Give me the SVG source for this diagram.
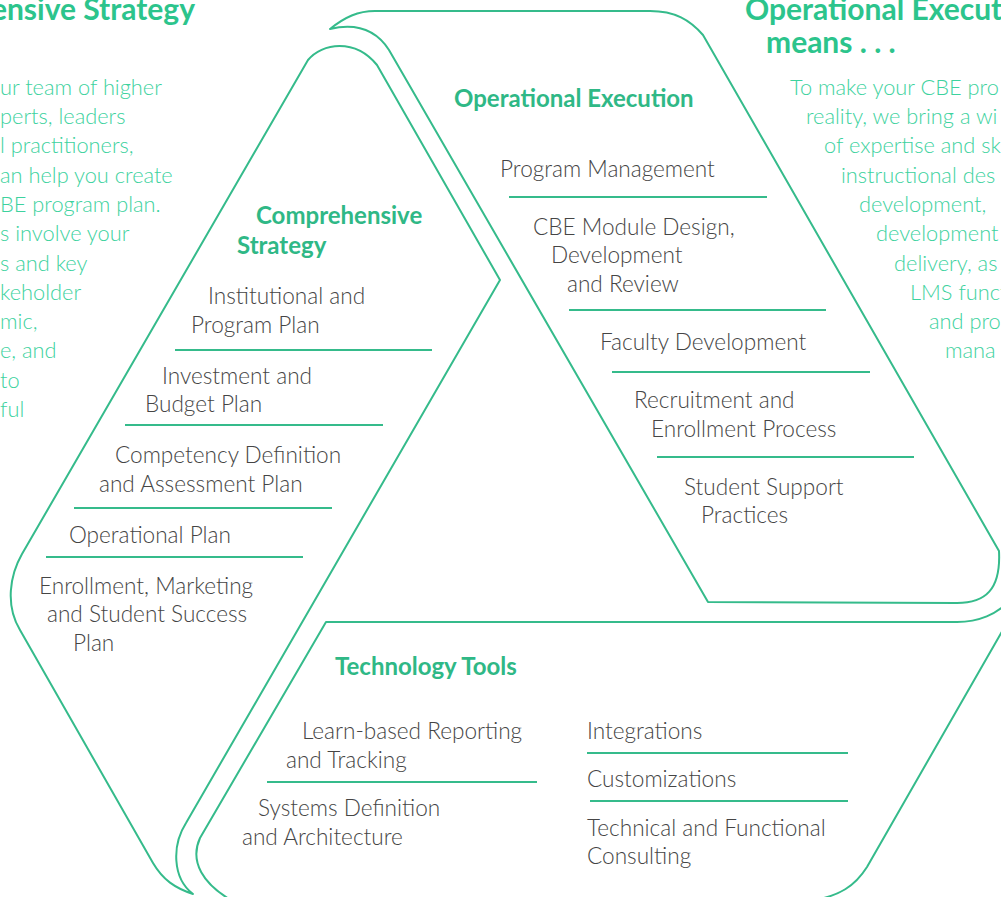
<svg xmlns="http://www.w3.org/2000/svg" width="1001" height="897" viewBox="0 0 1001 897">
<style>
.shape{fill:none;stroke:#35bb8b;stroke-width:2;stroke-linejoin:round}
.sep{stroke:#35bb8b;stroke-width:2}
.item{font-family:Lato,"Open Sans","Liberation Sans",sans-serif;font-weight:300;font-size:22.6px;fill:#454545}
.head{font-family:Lato,"Open Sans","Liberation Sans",sans-serif;font-weight:700;font-size:24px;fill:#2fb886}
.title{font-family:Lato,"Open Sans","Liberation Sans",sans-serif;font-weight:700;font-size:30px;fill:#2cc48c}
.para{font-family:Lato,"Open Sans","Liberation Sans",sans-serif;font-weight:300;font-size:21.8px;fill:#3dd29e}
</style>
<rect width="1001" height="897" fill="#ffffff"/>

<g id="side-left">
<text class="title" x="195" y="20" text-anchor="end">ensive Strategy</text>
<text class="para" x="0" y="95">ur team of higher</text>
<text class="para" x="0" y="124">perts, leaders</text>
<text class="para" x="0" y="153">l practitioners,</text>
<text class="para" x="0" y="183">an help you create</text>
<text class="para" x="0" y="212">BE program plan.</text>
<text class="para" x="0" y="241">s involve your</text>
<text class="para" x="0" y="271">s and key</text>
<text class="para" x="0" y="300">keholder</text>
<text class="para" x="0" y="329">mic,</text>
<text class="para" x="0" y="358">e, and</text>
<text class="para" x="0" y="388">to</text>
<text class="para" x="0" y="417">ful</text>
</g>

<g id="side-right">
<text class="title" x="745" y="20">Operational Execut</text>
<text class="title" x="766" y="53">means . . .</text>
<text class="para" x="790" y="95">To make your CBE pro</text>
<text class="para" x="806" y="124">reality, we bring a wi</text>
<text class="para" x="824" y="153">of expertise and sk</text>
<text class="para" x="841" y="183">instructional des</text>
<text class="para" x="859" y="212">development,</text>
<text class="para" x="876" y="241">development</text>
<text class="para" x="894" y="271">delivery, as</text>
<text class="para" x="910" y="300">LMS funct</text>
<text class="para" x="929" y="329">and pro</text>
<text class="para" x="945" y="358">mana</text>
</g>

<g id="operational-execution">
<path class="shape" d="M 330,29 C 345,17 358,11 375,11 L 650,11 C 675,11 690,20 703,35 L 999,551 C 1001,590 985,603 957,603 L 708,602 L 389,50 C 378,33 360,22 330,29 Z"/>
<text class="head" x="454" y="107">Operational Execution</text>
<text class="item" x="500" y="177">Program Management</text>
<line class="sep" x1="509" y1="197" x2="767" y2="197"/>
<text class="item" x="533" y="235">CBE Module Design,</text>
<text class="item" x="551" y="263">Development</text>
<text class="item" x="567" y="292">and Review</text>
<line class="sep" x1="569" y1="310" x2="826" y2="310"/>
<text class="item" x="600" y="350">Faculty Development</text>
<line class="sep" x1="612" y1="372" x2="870" y2="372"/>
<text class="item" x="634" y="408">Recruitment and</text>
<text class="item" x="651" y="437">Enrollment Process</text>
<line class="sep" x1="657" y1="457" x2="914" y2="457"/>
<text class="item" x="684" y="495">Student Support</text>
<text class="item" x="701" y="523">Practices</text>
</g>

<g id="comprehensive-strategy">
<path class="shape" d="M 308,60 C 322,43 355,38 377,65 L 500,280 L 186,823 C 172,845 172,878 193,894 C 175,888 163,880 153,863 L 20,630 C 5,605 10,575 22,554 Z"/>
<text class="head" x="256" y="224">Comprehensive</text>
<text class="head" x="237" y="254">Strategy</text>
<text class="item" x="208" y="304">Institutional and</text>
<text class="item" x="191" y="333">Program Plan</text>
<line class="sep" x1="175" y1="350" x2="432" y2="350"/>
<text class="item" x="162" y="384">Investment and</text>
<text class="item" x="145" y="412">Budget Plan</text>
<line class="sep" x1="125" y1="425" x2="383" y2="425"/>
<text class="item" x="115" y="463">Competency Definition</text>
<text class="item" x="99" y="492">and Assessment Plan</text>
<line class="sep" x1="74" y1="508" x2="332" y2="508"/>
<text class="item" x="69" y="543">Operational Plan</text>
<line class="sep" x1="46" y1="557" x2="303" y2="557"/>
<text class="item" x="39" y="594">Enrollment, Marketing</text>
<text class="item" x="47" y="622">and Student Success</text>
<text class="item" x="73" y="651">Plan</text>
</g>

<g id="technology-tools">
<path class="shape" d="M 326,622 L 957,622 C 980,622 997,613 1006,604 L 1020,600 L 867,867 C 855,886 840,896 810,901 L 240,905 C 200,885 190,860 200,838 Z"/>
<text class="head" x="335" y="675">Technology Tools</text>
<text class="item" x="302" y="739">Learn-based Reporting</text>
<text class="item" x="286" y="768">and Tracking</text>
<line class="sep" x1="267" y1="782" x2="537" y2="782"/>
<text class="item" x="258" y="816">Systems Definition</text>
<text class="item" x="242" y="845">and Architecture</text>
<text class="item" x="587" y="739">Integrations</text>
<line class="sep" x1="587" y1="753" x2="848" y2="753"/>
<text class="item" x="587" y="787">Customizations</text>
<line class="sep" x1="590" y1="801" x2="848" y2="801"/>
<text class="item" x="587" y="836">Technical and Functional</text>
<text class="item" x="587" y="864">Consulting</text>
</g>

<g id="connectors"></g>
</svg>
